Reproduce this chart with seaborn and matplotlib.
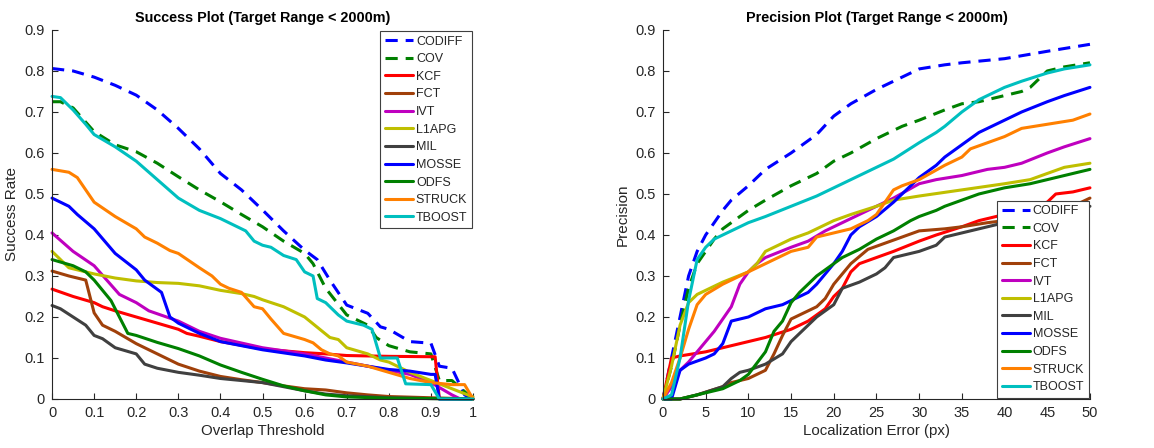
import matplotlib
matplotlib.use("Agg")
import matplotlib.pyplot as plt
import seaborn as sns
import numpy as np

sns.set_theme(style="white")
plt.rcParams['font.family'] = ['Liberation Sans', 'DejaVu Sans']

names = ["CODIFF", "COV", "KCF", "FCT", "IVT", "L1APG", "MIL", "MOSSE", "ODFS", "STRUCK", "TBOOST"]
colors = ["#0000ff", "#008000", "#ff0000", "#a0400a", "#bf00bf", "#bfbf00", "#404040",
          "#0000ff", "#008000", "#ff8000", "#00bfbf"]
styles = ["--", "--", "-", "-", "-", "-", "-", "-", "-", "-", "-"]

# ---------------- Success plot data ----------------
s_codiff_x = [0, 0.05, 0.1, 0.15, 0.2, 0.25, 0.3, 0.35, 0.4, 0.45, 0.5, 0.55, 0.6, 0.63, 0.66, 0.7, 0.75, 0.78, 0.8, 0.85, 0.9, 0.92, 0.95, 0.98, 1.0]
s_codiff_y = [0.806, 0.8, 0.785, 0.765, 0.741, 0.705, 0.66, 0.61, 0.55, 0.51, 0.461, 0.41, 0.363, 0.34, 0.29, 0.229, 0.209, 0.176, 0.17, 0.14, 0.136, 0.08, 0.075, 0.01, 0.0]

s_cov_x = [0, 0.02, 0.05, 0.1, 0.15, 0.2, 0.25, 0.3, 0.35, 0.4, 0.45, 0.5, 0.55, 0.6, 0.62, 0.65, 0.7, 0.75, 0.77, 0.8, 0.85, 0.9, 0.92, 0.95, 1.0]
s_cov_y = [0.725, 0.725, 0.71, 0.652, 0.62, 0.603, 0.575, 0.542, 0.51, 0.481, 0.45, 0.42, 0.385, 0.355, 0.33, 0.27, 0.205, 0.18, 0.15, 0.13, 0.115, 0.11, 0.045, 0.045, 0.0]

s_kcf_x = [0, 0.05, 0.1, 0.12, 0.15, 0.2, 0.25, 0.3, 0.32, 0.35, 0.4, 0.5, 0.6, 0.65, 0.7, 0.8, 0.91, 0.92, 1.0]
s_kcf_y = [0.268, 0.25, 0.235, 0.225, 0.215, 0.2, 0.185, 0.17, 0.16, 0.153, 0.14, 0.122, 0.113, 0.11, 0.106, 0.104, 0.103, 0.0, 0.0]

s_fct_x = [0, 0.04, 0.08, 0.1, 0.12, 0.15, 0.2, 0.25, 0.28, 0.3, 0.35, 0.4, 0.45, 0.5, 0.55, 0.6, 0.65, 0.7, 0.75, 0.8, 0.9, 1.0]
s_fct_y = [0.312, 0.3, 0.29, 0.21, 0.18, 0.165, 0.135, 0.11, 0.095, 0.085, 0.068, 0.055, 0.047, 0.04, 0.032, 0.025, 0.022, 0.015, 0.01, 0.006, 0.003, 0.0]

s_ivt_x = [0, 0.05, 0.1, 0.13, 0.16, 0.2, 0.23, 0.3, 0.35, 0.4, 0.5, 0.6, 0.7, 0.8, 0.85, 0.9, 0.95, 0.97, 1.0]
s_ivt_y = [0.405, 0.36, 0.325, 0.29, 0.255, 0.235, 0.215, 0.19, 0.165, 0.148, 0.125, 0.11, 0.09, 0.07, 0.06, 0.04, 0.01, 0.0, 0.0]

s_l1apg_x = [0, 0.04, 0.1, 0.15, 0.2, 0.25, 0.3, 0.35, 0.4, 0.45, 0.48, 0.5, 0.55, 0.6, 0.63, 0.66, 0.68, 0.7, 0.75, 0.78, 0.8, 0.85, 0.9, 0.95, 1.0]
s_l1apg_y = [0.36, 0.32, 0.305, 0.295, 0.288, 0.284, 0.282, 0.276, 0.265, 0.257, 0.25, 0.242, 0.225, 0.2, 0.175, 0.15, 0.145, 0.125, 0.11, 0.095, 0.09, 0.065, 0.045, 0.025, 0.005]

s_mil_x = [0, 0.02, 0.05, 0.08, 0.1, 0.12, 0.15, 0.2, 0.22, 0.25, 0.3, 0.35, 0.4, 0.5, 0.55, 0.6, 0.65, 0.7, 0.8, 0.9, 1.0]
s_mil_y = [0.228, 0.22, 0.2, 0.18, 0.155, 0.147, 0.125, 0.11, 0.085, 0.075, 0.065, 0.058, 0.05, 0.04, 0.03, 0.02, 0.012, 0.008, 0.003, 0.001, 0.0]

s_mosse_x = [0, 0.04, 0.06, 0.1, 0.15, 0.2, 0.22, 0.26, 0.28, 0.3, 0.35, 0.4, 0.5, 0.6, 0.65, 0.7, 0.8, 0.85, 0.9, 0.91, 0.92, 1.0]
s_mosse_y = [0.49, 0.47, 0.45, 0.415, 0.355, 0.315, 0.29, 0.26, 0.2, 0.185, 0.16, 0.14, 0.12, 0.105, 0.095, 0.088, 0.072, 0.068, 0.06, 0.06, 0.0, 0.0]

s_odfs_x = [0, 0.05, 0.08, 0.1, 0.12, 0.14, 0.16, 0.18, 0.2, 0.25, 0.3, 0.35, 0.4, 0.45, 0.5, 0.55, 0.6, 0.65, 0.7, 0.8, 0.9, 1.0]
s_odfs_y = [0.34, 0.325, 0.31, 0.29, 0.265, 0.24, 0.2, 0.16, 0.155, 0.138, 0.123, 0.105, 0.083, 0.065, 0.048, 0.032, 0.02, 0.01, 0.005, 0.002, 0.001, 0.0]

s_struck_x = [0, 0.04, 0.06, 0.08, 0.1, 0.15, 0.2, 0.22, 0.25, 0.28, 0.3, 0.35, 0.38, 0.4, 0.42, 0.45, 0.48, 0.5, 0.52, 0.55, 0.6, 0.62, 0.64, 0.66, 0.68, 0.7, 0.75, 0.8, 0.85, 0.9, 0.95, 0.98, 1.0]
s_struck_y = [0.56, 0.553, 0.54, 0.51, 0.48, 0.445, 0.415, 0.395, 0.38, 0.362, 0.355, 0.32, 0.3, 0.28, 0.27, 0.26, 0.225, 0.22, 0.195, 0.16, 0.145, 0.137, 0.12, 0.11, 0.105, 0.09, 0.08, 0.065, 0.05, 0.04, 0.035, 0.035, 0.0]

s_tboost_x = [0, 0.02, 0.05, 0.08, 0.1, 0.15, 0.2, 0.25, 0.3, 0.35, 0.4, 0.45, 0.46, 0.48, 0.5, 0.52, 0.55, 0.58, 0.6, 0.62, 0.63, 0.65, 0.68, 0.7, 0.74, 0.76, 0.78, 0.82, 0.84, 0.9, 0.92, 1.0]
s_tboost_y = [0.738, 0.735, 0.705, 0.67, 0.645, 0.615, 0.58, 0.535, 0.49, 0.46, 0.44, 0.415, 0.41, 0.385, 0.375, 0.37, 0.35, 0.34, 0.31, 0.30, 0.245, 0.235, 0.205, 0.19, 0.18, 0.17, 0.10, 0.10, 0.037, 0.035, 0.0, 0.0]

# ---------------- Precision plot data ----------------
p_codiff_x = [0, 1, 2, 3, 4, 5, 6, 7, 8, 10, 12, 15, 18, 20, 22, 25, 28, 30, 33, 35, 40, 45, 50]
p_codiff_y = [0, 0.1, 0.2, 0.3, 0.36, 0.4, 0.43, 0.46, 0.485, 0.52, 0.56, 0.6, 0.645, 0.69, 0.72, 0.755, 0.785, 0.805, 0.815, 0.82, 0.83, 0.848, 0.865]

p_cov_x = [0, 1, 2, 3, 4, 5, 6, 7, 8, 10, 12, 15, 18, 20, 22, 25, 28, 30, 33, 35, 37, 40, 42, 43, 45, 47, 50]
p_cov_y = [0, 0.08, 0.18, 0.27, 0.33, 0.36, 0.39, 0.415, 0.43, 0.46, 0.485, 0.52, 0.55, 0.58, 0.6, 0.635, 0.665, 0.68, 0.705, 0.72, 0.725, 0.74, 0.75, 0.76, 0.8, 0.81, 0.82]

p_kcf_x = [0, 0.5, 1, 2, 5, 8, 10, 12, 15, 17, 19, 20, 21, 22, 23, 25, 27, 30, 32, 35, 37, 40, 42, 45, 46, 48, 50]
p_kcf_y = [0, 0.05, 0.1, 0.105, 0.115, 0.13, 0.14, 0.15, 0.17, 0.19, 0.22, 0.25, 0.27, 0.31, 0.33, 0.345, 0.36, 0.385, 0.4, 0.42, 0.435, 0.45, 0.465, 0.48, 0.5, 0.505, 0.515]

p_fct_x = [0, 2, 4, 7, 8, 10, 12, 13, 14, 15, 17, 18, 19, 20, 22, 24, 26, 28, 30, 33, 35, 38, 40, 45, 48, 50]
p_fct_y = [0, 0, 0.01, 0.03, 0.04, 0.05, 0.07, 0.11, 0.155, 0.195, 0.215, 0.225, 0.245, 0.28, 0.33, 0.365, 0.38, 0.395, 0.41, 0.415, 0.42, 0.43, 0.435, 0.45, 0.47, 0.49]

p_ivt_x = [0, 1, 2, 3, 4, 5, 6, 7, 8, 9, 10, 11, 12, 15, 17, 19, 22, 25, 27, 30, 32, 35, 38, 40, 42, 45, 47, 50]
p_ivt_y = [0, 0.03, 0.07, 0.09, 0.115, 0.14, 0.165, 0.195, 0.225, 0.28, 0.31, 0.33, 0.345, 0.37, 0.385, 0.41, 0.44, 0.47, 0.49, 0.525, 0.535, 0.545, 0.56, 0.565, 0.575, 0.6, 0.615, 0.635]

p_l1apg_x = [0, 1, 2, 3, 4, 5, 7, 10, 11, 12, 14, 15, 17, 20, 22, 25, 27, 30, 35, 40, 43, 45, 47, 50]
p_l1apg_y = [0, 0.08, 0.18, 0.235, 0.255, 0.265, 0.285, 0.31, 0.33, 0.36, 0.38, 0.39, 0.405, 0.435, 0.45, 0.47, 0.485, 0.495, 0.51, 0.525, 0.535, 0.55, 0.565, 0.575]

p_mil_x = [0, 2, 4, 7, 8, 9, 10, 12, 14, 15, 16, 18, 20, 21, 23, 25, 26, 27, 30, 32, 33, 35, 38, 40, 43, 45, 48, 50]
p_mil_y = [0, 0, 0.01, 0.03, 0.05, 0.065, 0.07, 0.085, 0.11, 0.14, 0.16, 0.2, 0.23, 0.27, 0.285, 0.305, 0.32, 0.345, 0.36, 0.375, 0.395, 0.405, 0.42, 0.43, 0.44, 0.45, 0.46, 0.47]

p_mosse_x = [0, 1, 2, 3, 5, 6, 7, 8, 10, 12, 14, 17, 18, 20, 21, 22, 23, 25, 27, 29, 30, 32, 33, 35, 37, 40, 42, 45, 47, 50]
p_mosse_y = [0, 0.0, 0.07, 0.085, 0.1, 0.11, 0.135, 0.19, 0.2, 0.22, 0.23, 0.26, 0.28, 0.33, 0.36, 0.4, 0.42, 0.445, 0.48, 0.52, 0.54, 0.57, 0.59, 0.62, 0.65, 0.68, 0.7, 0.725, 0.74, 0.76]

p_odfs_x = [0, 2, 5, 7, 9, 10, 12, 13, 14, 15, 16, 18, 20, 21, 23, 25, 26, 27, 29, 30, 32, 33, 35, 37, 40, 43, 45, 50]
p_odfs_y = [0, 0, 0.015, 0.025, 0.045, 0.06, 0.115, 0.165, 0.19, 0.235, 0.26, 0.3, 0.33, 0.345, 0.365, 0.39, 0.4, 0.41, 0.435, 0.445, 0.46, 0.47, 0.485, 0.5, 0.515, 0.525, 0.535, 0.56]

p_struck_x = [0, 1, 2, 3, 4, 5, 7, 10, 12, 15, 17, 18, 20, 22, 24, 25, 27, 28, 30, 33, 35, 36, 38, 40, 42, 45, 48, 50]
p_struck_y = [0, 0.04, 0.1, 0.17, 0.23, 0.255, 0.28, 0.31, 0.33, 0.36, 0.37, 0.395, 0.405, 0.415, 0.435, 0.45, 0.51, 0.52, 0.535, 0.57, 0.59, 0.61, 0.625, 0.64, 0.66, 0.67, 0.68, 0.695]

p_tboost_x = [0, 1, 2, 3, 4, 5, 6, 7, 8, 10, 12, 15, 18, 20, 22, 25, 27, 30, 32, 33, 35, 37, 40, 42, 45, 47, 50]
p_tboost_y = [0, 0.01, 0.1, 0.24, 0.34, 0.37, 0.39, 0.4, 0.41, 0.43, 0.445, 0.47, 0.495, 0.515, 0.535, 0.565, 0.585, 0.625, 0.65, 0.665, 0.7, 0.73, 0.76, 0.775, 0.795, 0.805, 0.815]

success = [(s_codiff_x, s_codiff_y), (s_cov_x, s_cov_y), (s_kcf_x, s_kcf_y), (s_fct_x, s_fct_y),
           (s_ivt_x, s_ivt_y), (s_l1apg_x, s_l1apg_y), (s_mil_x, s_mil_y), (s_mosse_x, s_mosse_y),
           (s_odfs_x, s_odfs_y), (s_struck_x, s_struck_y), (s_tboost_x, s_tboost_y)]
precision = [(p_codiff_x, p_codiff_y), (p_cov_x, p_cov_y), (p_kcf_x, p_kcf_y), (p_fct_x, p_fct_y),
             (p_ivt_x, p_ivt_y), (p_l1apg_x, p_l1apg_y), (p_mil_x, p_mil_y), (p_mosse_x, p_mosse_y),
             (p_odfs_x, p_odfs_y), (p_struck_x, p_struck_y), (p_tboost_x, p_tboost_y)]

fig = plt.figure(figsize=(11.54, 4.48), dpi=100)
ax1 = fig.add_axes([0.0451, 0.1094, 0.3648, 0.8237])
ax2 = fig.add_axes([0.5745, 0.1094, 0.3700, 0.8237])

axc = "#262626"

def draw(ax, data, xlim, xticks, xticklabels, title, xlabel, ylabel, loc):
    for (xs, ys), n, c, ls in zip(data, names, colors, styles):
        sns.lineplot(x=xs, y=ys, ax=ax, color=c, linewidth=2.2, label=n,
                     estimator=None, sort=False, clip_on=False)
        ln = ax.get_lines()[-1]
        ln.set_linestyle(ls)
        if ls == "--":
            ln.set_dashes((4, 2.6))
    ax.set_xlim(*xlim)
    ax.set_ylim(0, 0.9)
    ax.set_xticks(xticks)
    ax.set_xticklabels(xticklabels)
    yt = [0, 0.1, 0.2, 0.3, 0.4, 0.5, 0.6, 0.7, 0.8, 0.9]
    ax.set_yticks(yt)
    ax.set_yticklabels(["0"] + [f"{v:.1f}" for v in yt[1:]])
    ax.tick_params(direction="in", length=4, width=0.8, colors=axc, labelsize=10.5, pad=5,
                   bottom=True, left=True)
    for s in ["top", "right"]:
        ax.spines[s].set_visible(False)
    for s in ["left", "bottom"]:
        ax.spines[s].set_color(axc)
        ax.spines[s].set_linewidth(0.8)
    ax.set_title(title, fontsize=10.4, fontweight="bold", color="black", pad=6)
    ax.set_xlabel(xlabel, fontsize=10.8, color=axc, labelpad=3)
    ax.set_ylabel(ylabel, fontsize=11, color=axc, labelpad=4)
    leg = ax.legend(loc=loc, fontsize=9, frameon=True, fancybox=False, borderaxespad=0.1,
                    handlelength=2.3, handletextpad=0.2, labelspacing=0.45,
                    borderpad=0.35, framealpha=1)
    leg.get_frame().set_edgecolor("#404040")
    leg.get_frame().set_linewidth(0.8)
    for h in leg.get_lines():
        h.set_linewidth(2.2)

draw(ax1, success, (0, 1), [0, 0.1, 0.2, 0.3, 0.4, 0.5, 0.6, 0.7, 0.8, 0.9, 1.0],
     ["0", "0.1", "0.2", "0.3", "0.4", "0.5", "0.6", "0.7", "0.8", "0.9", "1"],
     "Success Plot (Target Range < 2000m)", "Overlap Threshold", "Success Rate", "upper right")
draw(ax2, precision, (0, 50), list(range(0, 51, 5)), [str(v) for v in range(0, 51, 5)],
     "Precision Plot (Target Range < 2000m)", "Localization Error (px)", "Precision", "lower right")

fig.savefig("out.png", dpi=100)
